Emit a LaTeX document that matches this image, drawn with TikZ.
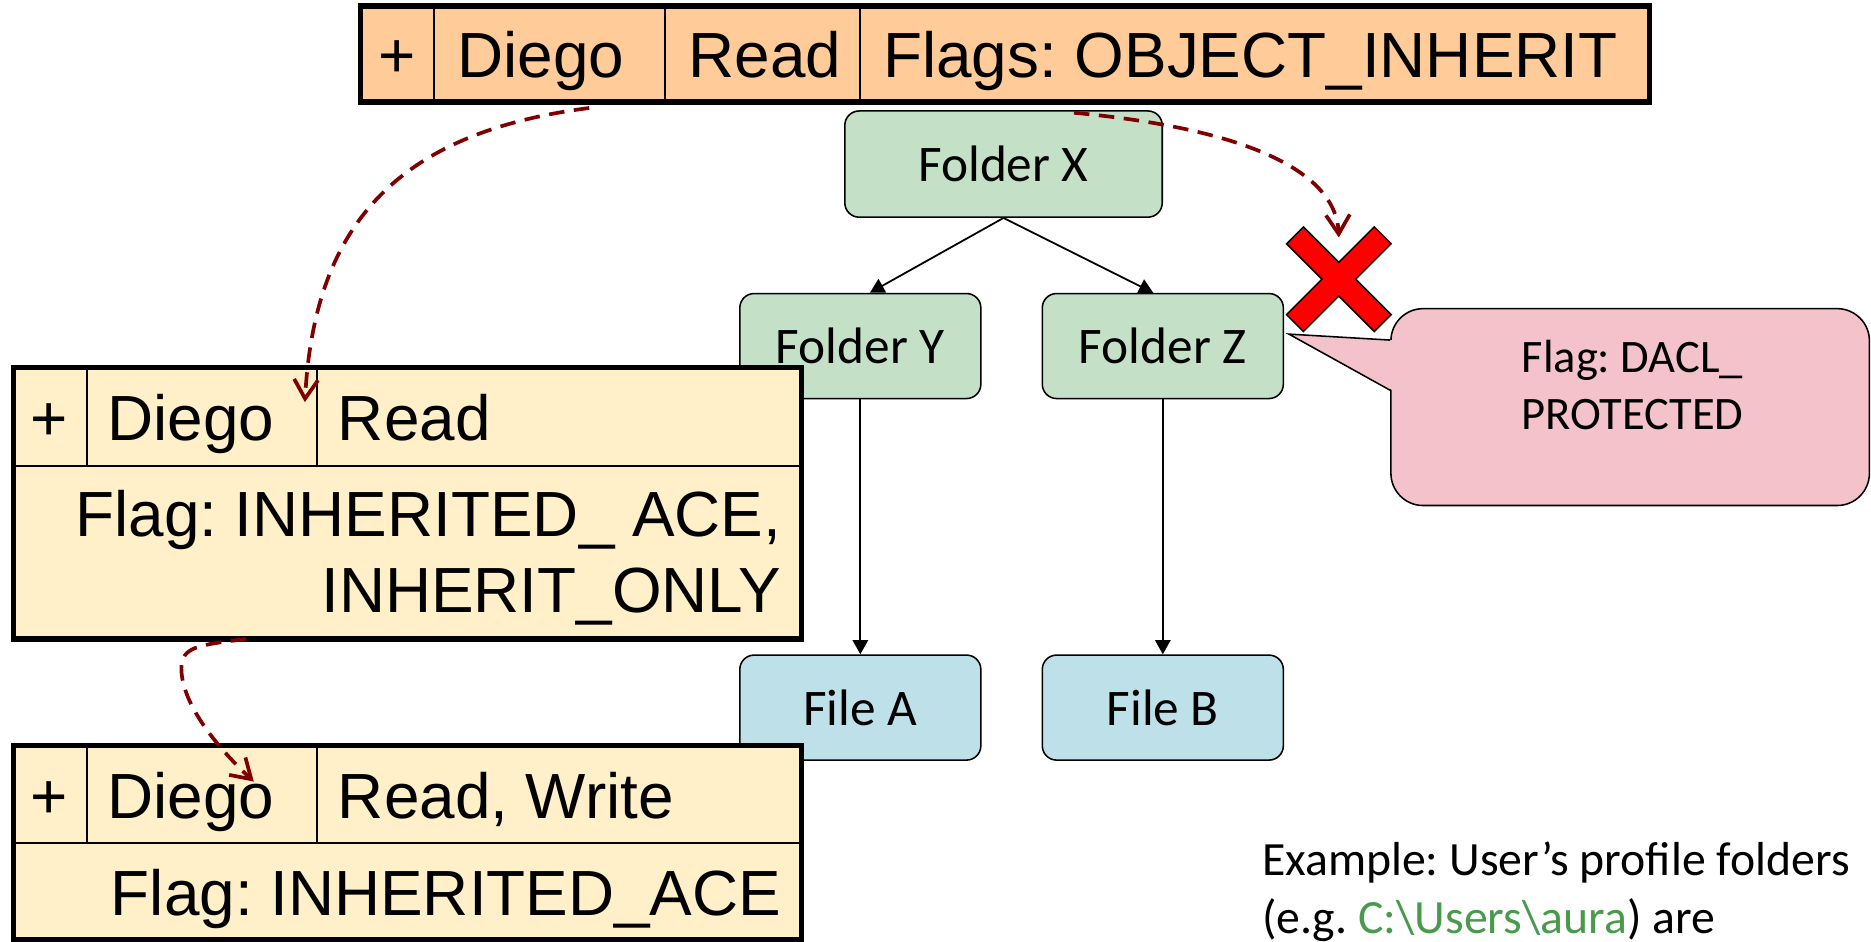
\documentclass[tikz,border=0pt]{standalone}
\usepackage{fontspec}
\newfontfamily\arialf{Liberation Sans}
\newfontfamily\calf{Carlito}
\usetikzlibrary{arrows.meta,calc}
\definecolor{peach}{HTML}{FFCC99}
\definecolor{cream}{HTML}{FFF0C9}
\definecolor{fgreen}{HTML}{C4E0C6}
\definecolor{fblue}{HTML}{BEE0E8}
\definecolor{cpink}{HTML}{F4C2CA}
\definecolor{darkred}{HTML}{7F0000}
\definecolor{pathgreen}{HTML}{4A9A4E}
\tikzset{
  box/.style={draw=black, line width=1.3pt, rounded corners=12pt, inner sep=0pt,
    font=\calf\fontsize{43}{52}\selectfont},
  folder/.style={box, fill=fgreen, minimum width=202pt, minimum height=88pt},
  filebox/.style={box, fill=fblue, minimum width=202pt, minimum height=88pt},
  tree/.style={draw=black, line width=1.5pt, -{Triangle[length=12pt,width=13pt]}},
  inherit/.style={draw=darkred, line width=3.1pt, dash pattern=on 13pt off 8pt,
    -{Straight Barb[length=16pt,width=20pt]}},
  cell/.style={draw=black, line width=1.5pt, inner sep=0pt, anchor=north west},
  outerline/.style={draw=black, line width=4.3pt},
  ttext/.style={font=\arialf\fontsize{53.5}{63}\selectfont, inner sep=0pt},
  ctext/.style={font=\calf\fontsize{39}{48}\selectfont, inner sep=0pt},
}
\begin{document}
\frenchspacing
\begin{tikzpicture}[x=1pt,y=-1pt]
\useasboundingbox (0,0) rectangle (1568,789);
\clip (0,0) rectangle (1568,789);

% ---------- tree ----------
\node[folder, minimum width=266pt, minimum height=89pt] (fx) at (841,137.5) {Folder X};
\node[folder] (fy) at (721,290) {Folder Y};
\node[folder] (fz) at (974.5,290) {Folder Z};
\node[filebox] (fa) at (721,593) {File A};
\node[filebox] (fb) at (974.5,593) {File B};
\draw[tree] (fx.south) -- ($(fy.north)+(8,0)$);
\draw[tree] (fx.south) -- ($(fz.north)+(-8,0)$);
\draw[tree] (fy.south) -- (fa.north);
\draw[tree] (fz.south) -- (fb.north);

% ---------- callout ----------
\node[draw=black, fill=cpink, line width=1.3pt, rounded corners=27pt, inner sep=0pt,
  minimum width=401pt, minimum height=165pt, anchor=north west] (callout) at (1165,258) {};
\coordinate (ctip) at ($(fz.east)+(4,-10)$);
\fill[cpink] (ctip) -- ($(callout.north west)+(2,27)$) -- ($(callout.north west)+(2,69)$) -- cycle;
\draw[line width=1.3pt, line join=miter] ($(callout.north west)+(0,27)$) -- (ctip) -- ($(callout.north west)+(0,69)$);
\node[ctext, anchor=base] (ctxt) at (1368,312)
  {\parbox[t]{320pt}{\centering Flag: DACL\_\\PROTECTED}};

% ---------- red cross ----------
\coordinate (xmark) at (1122,234);
\begin{scope}[shift={(xmark)}, rotate=45]
\draw[fill=red, line width=1.2pt, line join=miter]
  (10,10) -- (52,10) -- (52,-10) -- (10,-10) -- (10,-52) -- (-10,-52) -- (-10,-10)
  -- (-52,-10) -- (-52,10) -- (-10,10) -- (-10,52) -- (10,52) -- cycle;
\end{scope}

% ---------- top table ----------
\node[cell, fill=peach, minimum width=60.8pt, minimum height=79pt] (t0p) at (302.4,5) {};
\node[cell, fill=peach, minimum width=193.6pt, minimum height=79pt] (t0d) at (363.2,5) {};
\node[cell, fill=peach, minimum width=163.2pt, minimum height=79pt] (t0r) at (556.8,5) {};
\node[cell, fill=peach, minimum width=660.5pt, minimum height=79pt] (t0f) at (720,5) {};
\draw[outerline] (t0p.north west) rectangle (t0f.south east);
\node[ttext, anchor=base] (t0ptxt) at (332.8,64.8) {+};
\node[ttext, anchor=base west] (t0dtxt) at (383,64.8) {Diego};
\node[ttext, anchor=base west] (t0rtxt) at (577,64.8) {Read};
\node[ttext, anchor=base west] (t0ftxt) at (740,64.8) {Flags: OBJECT\_INHERIT};

% ---------- table 1 ----------
\node[cell, fill=cream, minimum width=61.3pt, minimum height=82pt] (t1p) at (11,308) {};
\node[cell, fill=cream, minimum width=192.7pt, minimum height=82pt] (t1d) at (72.3,308) {};
\node[cell, fill=cream, minimum width=405pt, minimum height=82pt] (t1r) at (265,308) {};
\node[cell, fill=cream, minimum width=659pt, minimum height=144pt] (t1f) at (11,390) {};
\draw[outerline] (t1p.north west) rectangle (t1f.south east);
\node[ttext, anchor=base] (t1ptxt) at (41.6,369) {+};
\node[ttext, anchor=base west] (t1dtxt) at (90,369) {Diego};
\node[ttext, anchor=base west] (t1rtxt) at (283,369) {Read};
\node[ttext, anchor=base east] (t1ftxt) at (655,450)
  {\parbox[t]{630pt}{\raggedleft Flag: INHERITED\_ ACE,\\INHERIT\_ONLY}};

% ---------- table 2 ----------
\node[cell, fill=cream, minimum width=61.3pt, minimum height=81pt] (t2p) at (11,625) {};
\node[cell, fill=cream, minimum width=192.7pt, minimum height=81pt] (t2d) at (72.3,625) {};
\node[cell, fill=cream, minimum width=405pt, minimum height=81pt] (t2r) at (265,625) {};
\node[cell, fill=cream, minimum width=659pt, minimum height=80pt] (t2f) at (11,706) {};
\draw[outerline] (t2p.north west) rectangle (t2f.south east);
\node[ttext, anchor=base] (t2ptxt) at (41.6,686) {+};
\node[ttext, anchor=base west] (t2dtxt) at (90,686) {Diego};
\node[ttext, anchor=base west] (t2rtxt) at (283,686) {Read, Write};
\node[ttext, anchor=base east] (t2ftxt) at (655,767) {Flag: INHERITED\_ACE};

% ---------- example text ----------
\node[ctext, font=\calf\fontsize{40}{48}\selectfont, anchor=base west] (example) at (1057.5,734)
  {\parbox[t]{520pt}{\raggedright Example: User’s profile folders\\(e.g. \textcolor{pathgreen}{C:\textbackslash Users\textbackslash aura}) are}};

% ---------- inheritance arrows ----------
\draw[inherit] ($(t0d.south)+(33,5)$) .. controls +(-163,21) and +(8,-147) .. ($(t1d.north east)+(-11,29)$);
\draw[inherit] ($(t0f.south)+(-151,9)$) .. controls +(161,15) and +(-2,-49) .. ($(xmark)+(0,-35)$);
\coordinate (bend3) at (152,560);
\draw[inherit] ($(t1f.south)+(-135,0)$) .. controls +(-40,5) and +(0,-18) .. (bend3)
  .. controls +(0,30) and +(-30,-28) .. ($(t2d.north)+(43.3,30)$);
\end{tikzpicture}
\end{document}
